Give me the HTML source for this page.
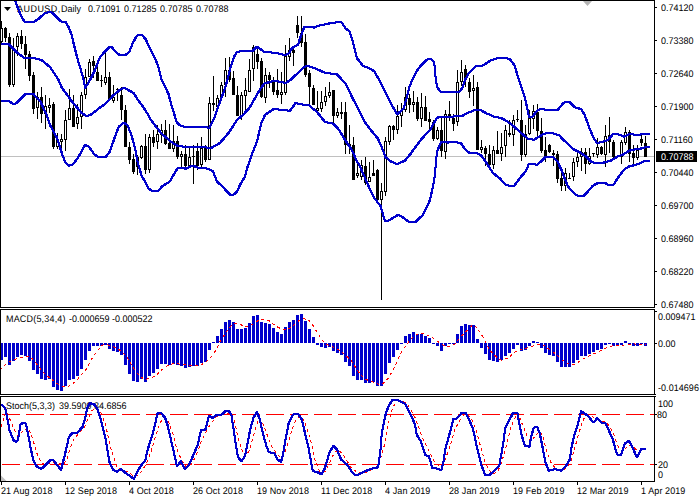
<!DOCTYPE html>
<html><head><meta charset="utf-8"><title>AUDUSD Daily</title>
<style>
html,body{margin:0;padding:0;background:#fff;}
body{width:700px;height:500px;position:relative;overflow:hidden;font-family:"Liberation Sans",sans-serif;}
svg{position:absolute;left:0;top:0;}
.t{position:absolute;font-size:9.6px;line-height:11px;height:11px;white-space:nowrap;font-family:"Liberation Sans",sans-serif;text-rendering:geometricPrecision;transform-origin:0 0;transform:scaleX(0.9375);}
</style></head><body>
<div class="t" style="left:17px;top:4px;color:#000;letter-spacing:0.50px">AUDUSD,</div><div class="t" style="left:61px;top:4px;color:#000">Daily</div><div class="t" style="left:88px;top:4px;color:#000">0.71091</div><div class="t" style="left:124px;top:4px;color:#000">0.71285</div><div class="t" style="left:160px;top:4px;color:#000">0.70785</div><div class="t" style="left:196px;top:4px;color:#000">0.70788</div><div class="t" style="left:5.5px;top:314px;color:#000;letter-spacing:0.20px">MACD(5,34,4)</div><div class="t" style="left:69px;top:314px;color:#000">-0.000659 -0.000522</div><div class="t" style="left:5.5px;top:401px;color:#000">Stoch(5,3,3)</div><div class="t" style="left:58.5px;top:401px;color:#000">39.5909</div><div class="t" style="left:94px;top:401px;color:#000">34.6856</div>
<svg width="700" height="500" viewBox="0 0 700 500">
<g shape-rendering="crispEdges">
<rect x="1" y="156" width="653" height="1" fill="#c0c0c0"/>
<rect x="1" y="21" width="1" height="22" fill="#000"/>
<rect x="0" y="28" width="3" height="14" fill="#000"/>
<rect x="1" y="29" width="1" height="12" fill="#fff"/>
<rect x="5" y="27" width="1" height="15" fill="#000"/>
<rect x="4" y="28" width="3" height="10" fill="#000"/>
<rect x="9" y="33" width="1" height="54" fill="#000"/>
<rect x="8" y="37" width="3" height="48" fill="#000"/>
<rect x="13" y="38" width="1" height="49" fill="#000"/>
<rect x="12" y="48" width="3" height="37" fill="#000"/>
<rect x="13" y="49" width="1" height="35" fill="#fff"/>
<rect x="17" y="33" width="1" height="23" fill="#000"/>
<rect x="16" y="36" width="3" height="11" fill="#000"/>
<rect x="17" y="37" width="1" height="9" fill="#fff"/>
<rect x="21" y="30" width="1" height="19" fill="#000"/>
<rect x="20" y="36" width="3" height="8" fill="#000"/>
<rect x="25" y="36" width="1" height="33" fill="#000"/>
<rect x="24" y="44" width="3" height="11" fill="#000"/>
<rect x="29" y="51" width="1" height="30" fill="#000"/>
<rect x="28" y="54" width="3" height="22" fill="#000"/>
<rect x="33" y="72" width="1" height="42" fill="#000"/>
<rect x="32" y="75" width="3" height="34" fill="#000"/>
<rect x="37" y="92" width="1" height="27" fill="#000"/>
<rect x="36" y="97" width="3" height="11" fill="#000"/>
<rect x="37" y="98" width="1" height="9" fill="#fff"/>
<rect x="41" y="87" width="1" height="36" fill="#000"/>
<rect x="40" y="97" width="3" height="17" fill="#000"/>
<rect x="45" y="95" width="1" height="34" fill="#000"/>
<rect x="44" y="106" width="3" height="8" fill="#000"/>
<rect x="45" y="107" width="1" height="6" fill="#fff"/>
<rect x="49" y="98" width="1" height="15" fill="#000"/>
<rect x="48" y="105" width="3" height="3" fill="#000"/>
<rect x="49" y="106" width="1" height="1" fill="#fff"/>
<rect x="53" y="102" width="1" height="47" fill="#000"/>
<rect x="52" y="104" width="3" height="43" fill="#000"/>
<rect x="57" y="133" width="1" height="16" fill="#000"/>
<rect x="56" y="140" width="3" height="7" fill="#000"/>
<rect x="57" y="141" width="1" height="5" fill="#fff"/>
<rect x="61" y="134" width="1" height="21" fill="#000"/>
<rect x="60" y="139" width="3" height="3" fill="#000"/>
<rect x="61" y="140" width="1" height="1" fill="#fff"/>
<rect x="65" y="110" width="1" height="41" fill="#000"/>
<rect x="64" y="120" width="3" height="20" fill="#000"/>
<rect x="65" y="121" width="1" height="18" fill="#fff"/>
<rect x="69" y="89" width="1" height="31" fill="#000"/>
<rect x="68" y="108" width="3" height="12" fill="#000"/>
<rect x="69" y="109" width="1" height="10" fill="#fff"/>
<rect x="73" y="95" width="1" height="32" fill="#000"/>
<rect x="72" y="108" width="3" height="19" fill="#000"/>
<rect x="77" y="104" width="1" height="25" fill="#000"/>
<rect x="76" y="117" width="3" height="7" fill="#000"/>
<rect x="77" y="118" width="1" height="5" fill="#fff"/>
<rect x="81" y="92" width="1" height="37" fill="#000"/>
<rect x="80" y="95" width="3" height="22" fill="#000"/>
<rect x="81" y="96" width="1" height="20" fill="#fff"/>
<rect x="85" y="69" width="1" height="30" fill="#000"/>
<rect x="84" y="77" width="3" height="18" fill="#000"/>
<rect x="85" y="78" width="1" height="16" fill="#fff"/>
<rect x="89" y="59" width="1" height="18" fill="#000"/>
<rect x="88" y="62" width="3" height="15" fill="#000"/>
<rect x="89" y="63" width="1" height="13" fill="#fff"/>
<rect x="93" y="56" width="1" height="22" fill="#000"/>
<rect x="92" y="61" width="3" height="5" fill="#000"/>
<rect x="97" y="66" width="1" height="15" fill="#000"/>
<rect x="96" y="72" width="3" height="9" fill="#000"/>
<rect x="101" y="75" width="1" height="12" fill="#000"/>
<rect x="100" y="80" width="3" height="1" fill="#000"/>
<rect x="105" y="53" width="1" height="32" fill="#000"/>
<rect x="104" y="77" width="3" height="6" fill="#000"/>
<rect x="105" y="78" width="1" height="4" fill="#fff"/>
<rect x="109" y="72" width="1" height="28" fill="#000"/>
<rect x="108" y="77" width="3" height="23" fill="#000"/>
<rect x="113" y="85" width="1" height="18" fill="#000"/>
<rect x="112" y="97" width="3" height="4" fill="#000"/>
<rect x="113" y="98" width="1" height="2" fill="#fff"/>
<rect x="117" y="88" width="1" height="13" fill="#000"/>
<rect x="116" y="89" width="3" height="1" fill="#000"/>
<rect x="121" y="87" width="1" height="33" fill="#000"/>
<rect x="120" y="95" width="3" height="15" fill="#000"/>
<rect x="125" y="105" width="1" height="42" fill="#000"/>
<rect x="124" y="110" width="3" height="37" fill="#000"/>
<rect x="129" y="142" width="1" height="22" fill="#000"/>
<rect x="128" y="147" width="3" height="13" fill="#000"/>
<rect x="133" y="154" width="1" height="20" fill="#000"/>
<rect x="132" y="159" width="3" height="13" fill="#000"/>
<rect x="137" y="155" width="1" height="20" fill="#000"/>
<rect x="136" y="157" width="3" height="10" fill="#000"/>
<rect x="137" y="158" width="1" height="8" fill="#fff"/>
<rect x="141" y="145" width="1" height="14" fill="#000"/>
<rect x="140" y="146" width="3" height="12" fill="#000"/>
<rect x="141" y="147" width="1" height="10" fill="#fff"/>
<rect x="145" y="134" width="1" height="40" fill="#000"/>
<rect x="144" y="146" width="3" height="24" fill="#000"/>
<rect x="149" y="134" width="1" height="39" fill="#000"/>
<rect x="148" y="137" width="3" height="33" fill="#000"/>
<rect x="149" y="138" width="1" height="31" fill="#fff"/>
<rect x="153" y="130" width="1" height="17" fill="#000"/>
<rect x="152" y="137" width="3" height="6" fill="#000"/>
<rect x="157" y="125" width="1" height="24" fill="#000"/>
<rect x="156" y="134" width="3" height="8" fill="#000"/>
<rect x="157" y="135" width="1" height="6" fill="#fff"/>
<rect x="161" y="124" width="1" height="19" fill="#000"/>
<rect x="160" y="130" width="3" height="5" fill="#000"/>
<rect x="161" y="131" width="1" height="3" fill="#fff"/>
<rect x="165" y="120" width="1" height="25" fill="#000"/>
<rect x="164" y="130" width="3" height="14" fill="#000"/>
<rect x="169" y="124" width="1" height="25" fill="#000"/>
<rect x="168" y="143" width="3" height="6" fill="#000"/>
<rect x="173" y="125" width="1" height="27" fill="#000"/>
<rect x="172" y="141" width="3" height="8" fill="#000"/>
<rect x="173" y="142" width="1" height="6" fill="#fff"/>
<rect x="177" y="136" width="1" height="23" fill="#000"/>
<rect x="176" y="141" width="3" height="16" fill="#000"/>
<rect x="181" y="151" width="1" height="16" fill="#000"/>
<rect x="180" y="154" width="3" height="3" fill="#000"/>
<rect x="181" y="155" width="1" height="1" fill="#fff"/>
<rect x="185" y="145" width="1" height="23" fill="#000"/>
<rect x="184" y="154" width="3" height="12" fill="#000"/>
<rect x="189" y="147" width="1" height="20" fill="#000"/>
<rect x="188" y="157" width="3" height="9" fill="#000"/>
<rect x="189" y="158" width="1" height="7" fill="#fff"/>
<rect x="193" y="145" width="1" height="39" fill="#000"/>
<rect x="192" y="156" width="3" height="1" fill="#000"/>
<rect x="197" y="143" width="1" height="27" fill="#000"/>
<rect x="196" y="151" width="3" height="15" fill="#000"/>
<rect x="201" y="137" width="1" height="30" fill="#000"/>
<rect x="200" y="148" width="3" height="17" fill="#000"/>
<rect x="201" y="149" width="1" height="15" fill="#fff"/>
<rect x="205" y="145" width="1" height="17" fill="#000"/>
<rect x="204" y="148" width="3" height="12" fill="#000"/>
<rect x="209" y="97" width="1" height="63" fill="#000"/>
<rect x="208" y="103" width="3" height="57" fill="#000"/>
<rect x="209" y="104" width="1" height="55" fill="#fff"/>
<rect x="213" y="76" width="1" height="35" fill="#000"/>
<rect x="212" y="103" width="3" height="2" fill="#000"/>
<rect x="217" y="95" width="1" height="12" fill="#000"/>
<rect x="216" y="98" width="3" height="9" fill="#000"/>
<rect x="217" y="99" width="1" height="7" fill="#fff"/>
<rect x="221" y="82" width="1" height="18" fill="#000"/>
<rect x="220" y="85" width="3" height="12" fill="#000"/>
<rect x="221" y="86" width="1" height="10" fill="#fff"/>
<rect x="225" y="58" width="1" height="39" fill="#000"/>
<rect x="224" y="70" width="3" height="15" fill="#000"/>
<rect x="225" y="71" width="1" height="13" fill="#fff"/>
<rect x="229" y="57" width="1" height="25" fill="#000"/>
<rect x="228" y="70" width="3" height="10" fill="#000"/>
<rect x="233" y="71" width="1" height="24" fill="#000"/>
<rect x="232" y="78" width="3" height="17" fill="#000"/>
<rect x="237" y="86" width="1" height="30" fill="#000"/>
<rect x="236" y="95" width="3" height="21" fill="#000"/>
<rect x="241" y="92" width="1" height="28" fill="#000"/>
<rect x="240" y="95" width="3" height="21" fill="#000"/>
<rect x="241" y="96" width="1" height="19" fill="#fff"/>
<rect x="245" y="78" width="1" height="32" fill="#000"/>
<rect x="244" y="90" width="3" height="6" fill="#000"/>
<rect x="245" y="91" width="1" height="4" fill="#fff"/>
<rect x="249" y="59" width="1" height="33" fill="#000"/>
<rect x="248" y="70" width="3" height="22" fill="#000"/>
<rect x="249" y="71" width="1" height="20" fill="#fff"/>
<rect x="253" y="45" width="1" height="36" fill="#000"/>
<rect x="252" y="47" width="3" height="22" fill="#000"/>
<rect x="253" y="48" width="1" height="20" fill="#fff"/>
<rect x="257" y="48" width="1" height="21" fill="#000"/>
<rect x="256" y="54" width="3" height="8" fill="#000"/>
<rect x="261" y="58" width="1" height="40" fill="#000"/>
<rect x="260" y="61" width="3" height="36" fill="#000"/>
<rect x="265" y="68" width="1" height="35" fill="#000"/>
<rect x="264" y="75" width="3" height="23" fill="#000"/>
<rect x="265" y="76" width="1" height="21" fill="#fff"/>
<rect x="269" y="72" width="1" height="16" fill="#000"/>
<rect x="268" y="75" width="3" height="5" fill="#000"/>
<rect x="273" y="77" width="1" height="18" fill="#000"/>
<rect x="272" y="80" width="3" height="12" fill="#000"/>
<rect x="277" y="69" width="1" height="29" fill="#000"/>
<rect x="276" y="90" width="3" height="5" fill="#000"/>
<rect x="281" y="72" width="1" height="32" fill="#000"/>
<rect x="280" y="92" width="3" height="3" fill="#000"/>
<rect x="281" y="93" width="1" height="1" fill="#fff"/>
<rect x="285" y="45" width="1" height="50" fill="#000"/>
<rect x="284" y="56" width="3" height="37" fill="#000"/>
<rect x="285" y="57" width="1" height="35" fill="#fff"/>
<rect x="289" y="38" width="1" height="23" fill="#000"/>
<rect x="288" y="50" width="3" height="7" fill="#000"/>
<rect x="289" y="51" width="1" height="5" fill="#fff"/>
<rect x="293" y="48" width="1" height="18" fill="#000"/>
<rect x="292" y="50" width="3" height="3" fill="#000"/>
<rect x="297" y="16" width="1" height="22" fill="#000"/>
<rect x="296" y="25" width="3" height="8" fill="#000"/>
<rect x="301" y="16" width="1" height="31" fill="#000"/>
<rect x="300" y="33" width="3" height="10" fill="#000"/>
<rect x="305" y="34" width="1" height="43" fill="#000"/>
<rect x="304" y="42" width="3" height="33" fill="#000"/>
<rect x="309" y="70" width="1" height="35" fill="#000"/>
<rect x="308" y="73" width="3" height="14" fill="#000"/>
<rect x="313" y="85" width="1" height="20" fill="#000"/>
<rect x="312" y="88" width="3" height="17" fill="#000"/>
<rect x="317" y="91" width="1" height="20" fill="#000"/>
<rect x="316" y="108" width="3" height="3" fill="#000"/>
<rect x="317" y="109" width="1" height="1" fill="#fff"/>
<rect x="321" y="91" width="1" height="21" fill="#000"/>
<rect x="320" y="102" width="3" height="7" fill="#000"/>
<rect x="321" y="103" width="1" height="5" fill="#fff"/>
<rect x="325" y="87" width="1" height="19" fill="#000"/>
<rect x="324" y="96" width="3" height="6" fill="#000"/>
<rect x="325" y="97" width="1" height="4" fill="#fff"/>
<rect x="329" y="82" width="1" height="16" fill="#000"/>
<rect x="328" y="92" width="3" height="4" fill="#000"/>
<rect x="329" y="93" width="1" height="2" fill="#fff"/>
<rect x="333" y="90" width="1" height="33" fill="#000"/>
<rect x="332" y="90" width="3" height="26" fill="#000"/>
<rect x="337" y="108" width="1" height="10" fill="#000"/>
<rect x="336" y="112" width="3" height="4" fill="#000"/>
<rect x="337" y="113" width="1" height="2" fill="#fff"/>
<rect x="341" y="102" width="1" height="17" fill="#000"/>
<rect x="340" y="112" width="3" height="2" fill="#000"/>
<rect x="345" y="102" width="1" height="52" fill="#000"/>
<rect x="344" y="112" width="3" height="33" fill="#000"/>
<rect x="349" y="125" width="1" height="29" fill="#000"/>
<rect x="348" y="144" width="3" height="2" fill="#000"/>
<rect x="353" y="137" width="1" height="43" fill="#000"/>
<rect x="352" y="145" width="3" height="35" fill="#000"/>
<rect x="357" y="162" width="1" height="16" fill="#000"/>
<rect x="356" y="173" width="3" height="3" fill="#000"/>
<rect x="357" y="174" width="1" height="1" fill="#fff"/>
<rect x="361" y="160" width="1" height="20" fill="#000"/>
<rect x="360" y="165" width="3" height="12" fill="#000"/>
<rect x="361" y="166" width="1" height="10" fill="#fff"/>
<rect x="365" y="157" width="1" height="28" fill="#000"/>
<rect x="364" y="166" width="3" height="17" fill="#000"/>
<rect x="369" y="162" width="1" height="20" fill="#000"/>
<rect x="368" y="177" width="3" height="5" fill="#000"/>
<rect x="369" y="178" width="1" height="3" fill="#fff"/>
<rect x="373" y="160" width="1" height="16" fill="#000"/>
<rect x="372" y="173" width="3" height="3" fill="#000"/>
<rect x="377" y="169" width="1" height="31" fill="#000"/>
<rect x="376" y="170" width="3" height="30" fill="#000"/>
<rect x="381" y="183" width="1" height="117" fill="#000"/>
<rect x="380" y="191" width="3" height="9" fill="#000"/>
<rect x="381" y="192" width="1" height="7" fill="#fff"/>
<rect x="385" y="137" width="1" height="59" fill="#000"/>
<rect x="384" y="141" width="3" height="51" fill="#000"/>
<rect x="385" y="142" width="1" height="49" fill="#fff"/>
<rect x="389" y="125" width="1" height="20" fill="#000"/>
<rect x="388" y="126" width="3" height="16" fill="#000"/>
<rect x="389" y="127" width="1" height="14" fill="#fff"/>
<rect x="393" y="125" width="1" height="15" fill="#000"/>
<rect x="392" y="126" width="3" height="4" fill="#000"/>
<rect x="397" y="105" width="1" height="29" fill="#000"/>
<rect x="396" y="116" width="3" height="14" fill="#000"/>
<rect x="397" y="117" width="1" height="12" fill="#fff"/>
<rect x="401" y="103" width="1" height="24" fill="#000"/>
<rect x="400" y="111" width="3" height="5" fill="#000"/>
<rect x="401" y="112" width="1" height="3" fill="#fff"/>
<rect x="405" y="87" width="1" height="25" fill="#000"/>
<rect x="404" y="97" width="3" height="13" fill="#000"/>
<rect x="405" y="98" width="1" height="11" fill="#fff"/>
<rect x="409" y="94" width="1" height="19" fill="#000"/>
<rect x="408" y="98" width="3" height="7" fill="#000"/>
<rect x="413" y="91" width="1" height="21" fill="#000"/>
<rect x="412" y="102" width="3" height="3" fill="#000"/>
<rect x="413" y="103" width="1" height="1" fill="#fff"/>
<rect x="417" y="97" width="1" height="24" fill="#000"/>
<rect x="416" y="102" width="3" height="17" fill="#000"/>
<rect x="421" y="93" width="1" height="34" fill="#000"/>
<rect x="420" y="107" width="3" height="12" fill="#000"/>
<rect x="421" y="108" width="1" height="10" fill="#fff"/>
<rect x="425" y="96" width="1" height="25" fill="#000"/>
<rect x="424" y="107" width="3" height="14" fill="#000"/>
<rect x="429" y="112" width="1" height="18" fill="#000"/>
<rect x="428" y="119" width="3" height="3" fill="#000"/>
<rect x="433" y="120" width="1" height="21" fill="#000"/>
<rect x="432" y="122" width="3" height="17" fill="#000"/>
<rect x="437" y="127" width="1" height="13" fill="#000"/>
<rect x="436" y="130" width="3" height="9" fill="#000"/>
<rect x="437" y="131" width="1" height="7" fill="#fff"/>
<rect x="441" y="118" width="1" height="39" fill="#000"/>
<rect x="440" y="130" width="3" height="21" fill="#000"/>
<rect x="445" y="110" width="1" height="49" fill="#000"/>
<rect x="444" y="114" width="3" height="38" fill="#000"/>
<rect x="445" y="115" width="1" height="36" fill="#fff"/>
<rect x="449" y="101" width="1" height="20" fill="#000"/>
<rect x="448" y="114" width="3" height="4" fill="#000"/>
<rect x="453" y="114" width="1" height="17" fill="#000"/>
<rect x="452" y="118" width="3" height="6" fill="#000"/>
<rect x="457" y="70" width="1" height="56" fill="#000"/>
<rect x="456" y="82" width="3" height="40" fill="#000"/>
<rect x="457" y="83" width="1" height="38" fill="#fff"/>
<rect x="461" y="60" width="1" height="26" fill="#000"/>
<rect x="460" y="72" width="3" height="10" fill="#000"/>
<rect x="461" y="73" width="1" height="8" fill="#fff"/>
<rect x="465" y="65" width="1" height="22" fill="#000"/>
<rect x="464" y="69" width="3" height="10" fill="#000"/>
<rect x="469" y="78" width="1" height="20" fill="#000"/>
<rect x="468" y="82" width="3" height="10" fill="#000"/>
<rect x="473" y="75" width="1" height="31" fill="#000"/>
<rect x="472" y="88" width="3" height="3" fill="#000"/>
<rect x="473" y="89" width="1" height="1" fill="#fff"/>
<rect x="477" y="82" width="1" height="68" fill="#000"/>
<rect x="476" y="87" width="3" height="63" fill="#000"/>
<rect x="481" y="140" width="1" height="13" fill="#000"/>
<rect x="480" y="147" width="3" height="3" fill="#000"/>
<rect x="481" y="148" width="1" height="1" fill="#fff"/>
<rect x="485" y="146" width="1" height="20" fill="#000"/>
<rect x="484" y="148" width="3" height="6" fill="#000"/>
<rect x="489" y="145" width="1" height="20" fill="#000"/>
<rect x="488" y="154" width="3" height="11" fill="#000"/>
<rect x="493" y="146" width="1" height="23" fill="#000"/>
<rect x="492" y="150" width="3" height="15" fill="#000"/>
<rect x="493" y="151" width="1" height="13" fill="#fff"/>
<rect x="497" y="131" width="1" height="23" fill="#000"/>
<rect x="496" y="150" width="3" height="4" fill="#000"/>
<rect x="501" y="133" width="1" height="28" fill="#000"/>
<rect x="500" y="147" width="3" height="7" fill="#000"/>
<rect x="501" y="148" width="1" height="5" fill="#fff"/>
<rect x="505" y="125" width="1" height="32" fill="#000"/>
<rect x="504" y="130" width="3" height="16" fill="#000"/>
<rect x="505" y="131" width="1" height="14" fill="#fff"/>
<rect x="509" y="120" width="1" height="17" fill="#000"/>
<rect x="508" y="133" width="3" height="2" fill="#000"/>
<rect x="513" y="115" width="1" height="31" fill="#000"/>
<rect x="512" y="120" width="3" height="15" fill="#000"/>
<rect x="513" y="121" width="1" height="13" fill="#fff"/>
<rect x="517" y="110" width="1" height="12" fill="#000"/>
<rect x="516" y="119" width="3" height="1" fill="#000"/>
<rect x="521" y="100" width="1" height="61" fill="#000"/>
<rect x="520" y="120" width="3" height="35" fill="#000"/>
<rect x="525" y="125" width="1" height="32" fill="#000"/>
<rect x="524" y="134" width="3" height="21" fill="#000"/>
<rect x="525" y="135" width="1" height="19" fill="#fff"/>
<rect x="529" y="110" width="1" height="25" fill="#000"/>
<rect x="528" y="118" width="3" height="16" fill="#000"/>
<rect x="529" y="119" width="1" height="14" fill="#fff"/>
<rect x="533" y="105" width="1" height="24" fill="#000"/>
<rect x="532" y="111" width="3" height="8" fill="#000"/>
<rect x="533" y="112" width="1" height="6" fill="#fff"/>
<rect x="537" y="104" width="1" height="32" fill="#000"/>
<rect x="536" y="112" width="3" height="19" fill="#000"/>
<rect x="541" y="118" width="1" height="35" fill="#000"/>
<rect x="540" y="131" width="3" height="20" fill="#000"/>
<rect x="545" y="137" width="1" height="25" fill="#000"/>
<rect x="544" y="150" width="3" height="7" fill="#000"/>
<rect x="549" y="144" width="1" height="9" fill="#000"/>
<rect x="548" y="145" width="3" height="7" fill="#000"/>
<rect x="553" y="150" width="1" height="16" fill="#000"/>
<rect x="552" y="153" width="3" height="2" fill="#000"/>
<rect x="557" y="151" width="1" height="32" fill="#000"/>
<rect x="556" y="154" width="3" height="25" fill="#000"/>
<rect x="561" y="171" width="1" height="20" fill="#000"/>
<rect x="560" y="178" width="3" height="8" fill="#000"/>
<rect x="565" y="168" width="1" height="23" fill="#000"/>
<rect x="564" y="173" width="3" height="13" fill="#000"/>
<rect x="565" y="174" width="1" height="11" fill="#fff"/>
<rect x="569" y="173" width="1" height="6" fill="#000"/>
<rect x="568" y="178" width="3" height="1" fill="#000"/>
<rect x="573" y="158" width="1" height="23" fill="#000"/>
<rect x="572" y="162" width="3" height="15" fill="#000"/>
<rect x="573" y="163" width="1" height="13" fill="#fff"/>
<rect x="577" y="153" width="1" height="14" fill="#000"/>
<rect x="576" y="157" width="3" height="5" fill="#000"/>
<rect x="577" y="158" width="1" height="3" fill="#fff"/>
<rect x="581" y="148" width="1" height="23" fill="#000"/>
<rect x="580" y="152" width="3" height="5" fill="#000"/>
<rect x="581" y="153" width="1" height="3" fill="#fff"/>
<rect x="585" y="148" width="1" height="26" fill="#000"/>
<rect x="584" y="152" width="3" height="12" fill="#000"/>
<rect x="589" y="148" width="1" height="17" fill="#000"/>
<rect x="588" y="156" width="3" height="8" fill="#000"/>
<rect x="589" y="157" width="1" height="6" fill="#fff"/>
<rect x="593" y="153" width="1" height="4" fill="#000"/>
<rect x="592" y="153" width="3" height="1" fill="#000"/>
<rect x="597" y="138" width="1" height="20" fill="#000"/>
<rect x="596" y="147" width="3" height="8" fill="#000"/>
<rect x="597" y="148" width="1" height="6" fill="#fff"/>
<rect x="601" y="146" width="1" height="9" fill="#000"/>
<rect x="600" y="147" width="3" height="7" fill="#000"/>
<rect x="605" y="125" width="1" height="42" fill="#000"/>
<rect x="604" y="136" width="3" height="19" fill="#000"/>
<rect x="605" y="137" width="1" height="17" fill="#fff"/>
<rect x="609" y="117" width="1" height="36" fill="#000"/>
<rect x="608" y="135" width="3" height="7" fill="#000"/>
<rect x="613" y="140" width="1" height="18" fill="#000"/>
<rect x="612" y="142" width="3" height="15" fill="#000"/>
<rect x="617" y="156" width="1" height="1" fill="#000"/>
<rect x="616" y="156" width="3" height="1" fill="#000"/>
<rect x="621" y="140" width="1" height="24" fill="#000"/>
<rect x="620" y="142" width="3" height="15" fill="#000"/>
<rect x="621" y="143" width="1" height="13" fill="#fff"/>
<rect x="625" y="127" width="1" height="18" fill="#000"/>
<rect x="624" y="132" width="3" height="11" fill="#000"/>
<rect x="625" y="133" width="1" height="9" fill="#fff"/>
<rect x="629" y="130" width="1" height="32" fill="#000"/>
<rect x="628" y="132" width="3" height="22" fill="#000"/>
<rect x="633" y="145" width="1" height="20" fill="#000"/>
<rect x="632" y="153" width="3" height="5" fill="#000"/>
<rect x="637" y="145" width="1" height="15" fill="#000"/>
<rect x="636" y="150" width="3" height="8" fill="#000"/>
<rect x="637" y="151" width="1" height="6" fill="#fff"/>
<rect x="641" y="133" width="1" height="13" fill="#000"/>
<rect x="640" y="139" width="3" height="4" fill="#000"/>
<rect x="645" y="136" width="1" height="21" fill="#000"/>
<rect x="644" y="143" width="3" height="14" fill="#000"/>
</g>
<g shape-rendering="crispEdges" fill="none" stroke-width="1" stroke-linejoin="round">
<polyline points="14.5,-0.5 18.1,9.5 21.0,15.9 24.0,21.3 33.8,21.3 38.5,18.0 44.2,12.7 48.1,11.6 51.5,12.1 55.5,16.0 60.2,20.9 65.2,21.6 68.0,26.5 70.9,33.8 73.5,44.5 76.5,56.5 79.5,66.5 82.4,76.5 84.8,87.4 89.5,79.5 94.5,69.5 99.5,56.5 105.2,50.2 108.8,46.5 111.5,46.9 115.2,51.5 118.8,54.2 125.2,54.2 128.8,51.5 132.4,42.4 135.9,35.9 138.1,34.5 141.5,34.5 145.2,38.8 149.5,48.1 154.5,58.1 157.4,64.5 160.9,78.5 168.1,93.8 169.5,99.5 172.4,109.5 173.8,113.8 175.5,119.5 177.0,122.7 179.5,124.7 182.5,125.8 185.5,126.5 204.5,126.5 208.8,127.4 213.8,117.5 216.5,109.5 220.9,97.5 224.0,89.0 225.5,84.5 228.5,73.0 231.5,62.0 234.0,55.5 236.5,51.5 242.4,50.2 252.4,50.2 256.5,46.2 263.8,51.5 276.5,52.4 283.8,54.7 288.1,53.1 290.9,48.8 293.1,46.5 297.4,44.5 300.2,35.9 303.8,26.5 308.1,26.2 313.8,27.1 318.1,25.2 329.5,22.8 339.5,21.4 341.5,22.4 345.2,28.1 348.8,30.5 352.4,41.5 356.5,58.1 358.1,59.5 362.4,65.2 369.5,68.1 373.8,70.9 379.5,80.9 386.5,95.2 392.4,106.5 396.5,113.8 403.1,108.1 405.9,98.1 408.8,86.5 412.4,78.1 415.9,70.9 420.2,65.2 425.9,59.5 428.8,58.4 431.5,59.2 433.8,62.4 434.5,72.4 436.5,86.5 440.2,91.5 443.1,91.8 458.8,91.2 461.5,88.1 464.5,79.5 468.1,73.1 475.2,65.9 482.4,64.9 490.9,59.5 498.1,57.4 505.2,57.4 509.5,58.8 513.8,64.5 518.1,78.1 523.8,95.2 526.5,106.5 528.5,116.5 532.4,115.9 536.5,110.2 539.5,108.8 554.5,109.5 557.4,109.1 562.4,103.1 565.2,101.4 568.8,101.5 573.8,106.5 580.9,108.8 584.5,115.2 588.8,127.4 593.1,137.4 596.5,142.4 601.5,141.5 607.4,139.5 612.4,133.8 617.4,133.8 623.8,136.2 628.8,133.8 637.4,134.2 649.0,133.4" stroke="#0000cc"/>
<polyline points="15.5,-0.5 19.1,9.5 22.0,15.9 25.0,21.3 34.8,21.3 39.5,18.0 45.2,12.7 49.1,11.6 52.5,12.1 56.5,16.0 61.2,20.9 66.2,21.6 69.0,26.5 71.9,33.8 74.5,44.5 77.5,56.5 80.5,66.5 83.4,76.5 85.8,87.4 90.5,79.5 95.5,69.5 100.5,56.5 106.2,50.2 109.8,46.5 112.5,46.9 116.2,51.5 119.8,54.2 126.2,54.2 129.8,51.5 133.4,42.4 136.9,35.9 139.1,34.5 142.5,34.5 146.2,38.8 150.5,48.1 155.5,58.1 158.4,64.5 161.9,78.5 169.1,93.8 170.5,99.5 173.4,109.5 174.8,113.8 176.5,119.5 178.0,122.7 180.5,124.7 183.5,125.8 186.5,126.5 205.5,126.5 209.8,127.4 214.8,117.5 217.5,109.5 221.9,97.5 225.0,89.0 226.5,84.5 229.5,73.0 232.5,62.0 235.0,55.5 237.5,51.5 243.4,50.2 253.4,50.2 257.5,46.2 264.8,51.5 277.5,52.4 284.8,54.7 289.1,53.1 291.9,48.8 294.1,46.5 298.4,44.5 301.2,35.9 304.8,26.5 309.1,26.2 314.8,27.1 319.1,25.2 330.5,22.8 340.5,21.4 342.5,22.4 346.2,28.1 349.8,30.5 353.4,41.5 357.5,58.1 359.1,59.5 363.4,65.2 370.5,68.1 374.8,70.9 380.5,80.9 387.5,95.2 393.4,106.5 397.5,113.8 404.1,108.1 406.9,98.1 409.8,86.5 413.4,78.1 416.9,70.9 421.2,65.2 426.9,59.5 429.8,58.4 432.5,59.2 434.8,62.4 435.5,72.4 437.5,86.5 441.2,91.5 444.1,91.8 459.8,91.2 462.5,88.1 465.5,79.5 469.1,73.1 476.2,65.9 483.4,64.9 491.9,59.5 499.1,57.4 506.2,57.4 510.5,58.8 514.8,64.5 519.1,78.1 524.8,95.2 527.5,106.5 529.5,116.5 533.4,115.9 537.5,110.2 540.5,108.8 555.5,109.5 558.4,109.1 563.4,103.1 566.2,101.4 569.8,101.5 574.8,106.5 581.9,108.8 585.5,115.2 589.8,127.4 594.1,137.4 597.5,142.4 602.5,141.5 608.4,139.5 613.4,133.8 618.4,133.8 624.8,136.2 629.8,133.8 638.4,134.2 650.0,133.4" stroke="#0000cc"/>
<polyline points="14.5,0.5 18.1,10.5 21.0,16.9 24.0,22.3 33.8,22.3 38.5,19.0 44.2,13.7 48.1,12.6 51.5,13.1 55.5,17.0 60.2,21.9 65.2,22.6 68.0,27.5 70.9,34.8 73.5,45.5 76.5,57.5 79.5,67.5 82.4,77.5 84.8,88.4 89.5,80.5 94.5,70.5 99.5,57.5 105.2,51.2 108.8,47.5 111.5,47.9 115.2,52.5 118.8,55.2 125.2,55.2 128.8,52.5 132.4,43.4 135.9,36.9 138.1,35.5 141.5,35.5 145.2,39.8 149.5,49.1 154.5,59.1 157.4,65.5 160.9,79.5 168.1,94.8 169.5,100.5 172.4,110.5 173.8,114.8 175.5,120.5 177.0,123.7 179.5,125.7 182.5,126.8 185.5,127.5 204.5,127.5 208.8,128.4 213.8,118.5 216.5,110.5 220.9,98.5 224.0,90.0 225.5,85.5 228.5,74.0 231.5,63.0 234.0,56.5 236.5,52.5 242.4,51.2 252.4,51.2 256.5,47.2 263.8,52.5 276.5,53.4 283.8,55.7 288.1,54.1 290.9,49.8 293.1,47.5 297.4,45.5 300.2,36.9 303.8,27.5 308.1,27.2 313.8,28.1 318.1,26.2 329.5,23.8 339.5,22.4 341.5,23.4 345.2,29.1 348.8,31.5 352.4,42.5 356.5,59.1 358.1,60.5 362.4,66.2 369.5,69.1 373.8,71.9 379.5,81.9 386.5,96.2 392.4,107.5 396.5,114.8 403.1,109.1 405.9,99.1 408.8,87.5 412.4,79.1 415.9,71.9 420.2,66.2 425.9,60.5 428.8,59.4 431.5,60.2 433.8,63.4 434.5,73.4 436.5,87.5 440.2,92.5 443.1,92.8 458.8,92.2 461.5,89.1 464.5,80.5 468.1,74.1 475.2,66.9 482.4,65.9 490.9,60.5 498.1,58.4 505.2,58.4 509.5,59.8 513.8,65.5 518.1,79.1 523.8,96.2 526.5,107.5 528.5,117.5 532.4,116.9 536.5,111.2 539.5,109.8 554.5,110.5 557.4,110.1 562.4,104.1 565.2,102.4 568.8,102.5 573.8,107.5 580.9,109.8 584.5,116.2 588.8,128.4 593.1,138.4 596.5,143.4 601.5,142.5 607.4,140.5 612.4,134.8 617.4,134.8 623.8,137.2 628.8,134.8 637.4,135.2 649.0,134.4" stroke="#0000cc"/>
<polyline points="15.5,0.5 19.1,10.5 22.0,16.9 25.0,22.3 34.8,22.3 39.5,19.0 45.2,13.7 49.1,12.6 52.5,13.1 56.5,17.0 61.2,21.9 66.2,22.6 69.0,27.5 71.9,34.8 74.5,45.5 77.5,57.5 80.5,67.5 83.4,77.5 85.8,88.4 90.5,80.5 95.5,70.5 100.5,57.5 106.2,51.2 109.8,47.5 112.5,47.9 116.2,52.5 119.8,55.2 126.2,55.2 129.8,52.5 133.4,43.4 136.9,36.9 139.1,35.5 142.5,35.5 146.2,39.8 150.5,49.1 155.5,59.1 158.4,65.5 161.9,79.5 169.1,94.8 170.5,100.5 173.4,110.5 174.8,114.8 176.5,120.5 178.0,123.7 180.5,125.7 183.5,126.8 186.5,127.5 205.5,127.5 209.8,128.4 214.8,118.5 217.5,110.5 221.9,98.5 225.0,90.0 226.5,85.5 229.5,74.0 232.5,63.0 235.0,56.5 237.5,52.5 243.4,51.2 253.4,51.2 257.5,47.2 264.8,52.5 277.5,53.4 284.8,55.7 289.1,54.1 291.9,49.8 294.1,47.5 298.4,45.5 301.2,36.9 304.8,27.5 309.1,27.2 314.8,28.1 319.1,26.2 330.5,23.8 340.5,22.4 342.5,23.4 346.2,29.1 349.8,31.5 353.4,42.5 357.5,59.1 359.1,60.5 363.4,66.2 370.5,69.1 374.8,71.9 380.5,81.9 387.5,96.2 393.4,107.5 397.5,114.8 404.1,109.1 406.9,99.1 409.8,87.5 413.4,79.1 416.9,71.9 421.2,66.2 426.9,60.5 429.8,59.4 432.5,60.2 434.8,63.4 435.5,73.4 437.5,87.5 441.2,92.5 444.1,92.8 459.8,92.2 462.5,89.1 465.5,80.5 469.1,74.1 476.2,66.9 483.4,65.9 491.9,60.5 499.1,58.4 506.2,58.4 510.5,59.8 514.8,65.5 519.1,79.1 524.8,96.2 527.5,107.5 529.5,117.5 533.4,116.9 537.5,111.2 540.5,109.8 555.5,110.5 558.4,110.1 563.4,104.1 566.2,102.4 569.8,102.5 574.8,107.5 581.9,109.8 585.5,116.2 589.8,128.4 594.1,138.4 597.5,143.4 602.5,142.5 608.4,140.5 613.4,134.8 618.4,134.8 624.8,137.2 629.8,134.8 638.4,135.2 650.0,134.4" stroke="#0000cc"/>
</g>
<g shape-rendering="crispEdges" fill="none" stroke-width="1" stroke-linejoin="round">
<polyline points="-0.5,43.4 8.1,43.8 15.2,50.9 23.8,57.4 32.4,57.4 40.9,59.5 49.5,66.5 58.1,79.5 60.9,86.5 70.9,100.2 80.9,112.4 85.2,115.2 89.5,114.9 99.5,107.1 105.2,103.1 112.4,95.2 120.9,88.1 124.5,87.8 133.1,92.4 137.4,99.5 140.9,103.8 146.5,112.4 149.5,118.0 153.8,123.8 160.9,133.1 170.9,141.5 178.1,145.9 199.5,146.5 210.9,147.4 219.5,142.4 228.1,132.4 236.5,119.5 242.4,114.5 248.8,107.5 259.5,88.8 263.8,83.1 273.8,80.2 285.2,82.4 290.9,78.8 295.2,74.5 299.5,70.5 302.4,67.4 307.0,65.2 315.2,68.1 323.8,72.0 336.5,74.0 345.2,83.1 350.9,95.2 358.1,109.5 363.8,120.9 369.5,128.5 377.4,138.1 382.4,149.5 384.9,156.5 390.2,160.9 396.5,163.5 404.5,160.2 410.2,153.1 420.2,139.5 430.2,128.5 435.9,118.1 438.8,116.2 460.9,115.9 467.0,112.4 475.2,109.3 479.5,109.3 486.5,113.1 493.8,116.2 500.2,117.4 505.2,119.9 510.9,123.8 518.1,130.2 523.8,135.2 528.1,138.8 533.8,139.1 538.1,136.5 542.4,133.8 546.5,132.5 550.9,132.5 555.5,133.8 558.8,134.9 562.4,139.0 565.9,142.0 569.5,145.5 573.1,148.8 580.2,152.4 585.2,155.9 590.2,160.9 593.8,162.5 603.1,162.1 610.2,160.2 617.4,155.9 623.1,153.8 628.8,150.2 634.5,148.8 640.2,148.1 644.5,146.9 649.0,146.5" stroke="#0000cc"/>
<polyline points="0.5,43.4 9.1,43.8 16.2,50.9 24.8,57.4 33.4,57.4 41.9,59.5 50.5,66.5 59.1,79.5 61.9,86.5 71.9,100.2 81.9,112.4 86.2,115.2 90.5,114.9 100.5,107.1 106.2,103.1 113.4,95.2 121.9,88.1 125.5,87.8 134.1,92.4 138.4,99.5 141.9,103.8 147.5,112.4 150.5,118.0 154.8,123.8 161.9,133.1 171.9,141.5 179.1,145.9 200.5,146.5 211.9,147.4 220.5,142.4 229.1,132.4 237.5,119.5 243.4,114.5 249.8,107.5 260.5,88.8 264.8,83.1 274.8,80.2 286.2,82.4 291.9,78.8 296.2,74.5 300.5,70.5 303.4,67.4 308.0,65.2 316.2,68.1 324.8,72.0 337.5,74.0 346.2,83.1 351.9,95.2 359.1,109.5 364.8,120.9 370.5,128.5 378.4,138.1 383.4,149.5 385.9,156.5 391.2,160.9 397.5,163.5 405.5,160.2 411.2,153.1 421.2,139.5 431.2,128.5 436.9,118.1 439.8,116.2 461.9,115.9 468.0,112.4 476.2,109.3 480.5,109.3 487.5,113.1 494.8,116.2 501.2,117.4 506.2,119.9 511.9,123.8 519.1,130.2 524.8,135.2 529.1,138.8 534.8,139.1 539.1,136.5 543.4,133.8 547.5,132.5 551.9,132.5 556.5,133.8 559.8,134.9 563.4,139.0 566.9,142.0 570.5,145.5 574.1,148.8 581.2,152.4 586.2,155.9 591.2,160.9 594.8,162.5 604.1,162.1 611.2,160.2 618.4,155.9 624.1,153.8 629.8,150.2 635.5,148.8 641.2,148.1 645.5,146.9 650.0,146.5" stroke="#0000cc"/>
<polyline points="-0.5,44.4 8.1,44.8 15.2,51.9 23.8,58.4 32.4,58.4 40.9,60.5 49.5,67.5 58.1,80.5 60.9,87.5 70.9,101.2 80.9,113.4 85.2,116.2 89.5,115.9 99.5,108.1 105.2,104.1 112.4,96.2 120.9,89.1 124.5,88.8 133.1,93.4 137.4,100.5 140.9,104.8 146.5,113.4 149.5,119.0 153.8,124.8 160.9,134.1 170.9,142.5 178.1,146.9 199.5,147.5 210.9,148.4 219.5,143.4 228.1,133.4 236.5,120.5 242.4,115.5 248.8,108.5 259.5,89.8 263.8,84.1 273.8,81.2 285.2,83.4 290.9,79.8 295.2,75.5 299.5,71.5 302.4,68.4 307.0,66.2 315.2,69.1 323.8,73.0 336.5,75.0 345.2,84.1 350.9,96.2 358.1,110.5 363.8,121.9 369.5,129.5 377.4,139.1 382.4,150.5 384.9,157.5 390.2,161.9 396.5,164.5 404.5,161.2 410.2,154.1 420.2,140.5 430.2,129.5 435.9,119.1 438.8,117.2 460.9,116.9 467.0,113.4 475.2,110.3 479.5,110.3 486.5,114.1 493.8,117.2 500.2,118.4 505.2,120.9 510.9,124.8 518.1,131.2 523.8,136.2 528.1,139.8 533.8,140.1 538.1,137.5 542.4,134.8 546.5,133.5 550.9,133.5 555.5,134.8 558.8,135.9 562.4,140.0 565.9,143.0 569.5,146.5 573.1,149.8 580.2,153.4 585.2,156.9 590.2,161.9 593.8,163.5 603.1,163.1 610.2,161.2 617.4,156.9 623.1,154.8 628.8,151.2 634.5,149.8 640.2,149.1 644.5,147.9 649.0,147.5" stroke="#0000cc"/>
<polyline points="0.5,44.4 9.1,44.8 16.2,51.9 24.8,58.4 33.4,58.4 41.9,60.5 50.5,67.5 59.1,80.5 61.9,87.5 71.9,101.2 81.9,113.4 86.2,116.2 90.5,115.9 100.5,108.1 106.2,104.1 113.4,96.2 121.9,89.1 125.5,88.8 134.1,93.4 138.4,100.5 141.9,104.8 147.5,113.4 150.5,119.0 154.8,124.8 161.9,134.1 171.9,142.5 179.1,146.9 200.5,147.5 211.9,148.4 220.5,143.4 229.1,133.4 237.5,120.5 243.4,115.5 249.8,108.5 260.5,89.8 264.8,84.1 274.8,81.2 286.2,83.4 291.9,79.8 296.2,75.5 300.5,71.5 303.4,68.4 308.0,66.2 316.2,69.1 324.8,73.0 337.5,75.0 346.2,84.1 351.9,96.2 359.1,110.5 364.8,121.9 370.5,129.5 378.4,139.1 383.4,150.5 385.9,157.5 391.2,161.9 397.5,164.5 405.5,161.2 411.2,154.1 421.2,140.5 431.2,129.5 436.9,119.1 439.8,117.2 461.9,116.9 468.0,113.4 476.2,110.3 480.5,110.3 487.5,114.1 494.8,117.2 501.2,118.4 506.2,120.9 511.9,124.8 519.1,131.2 524.8,136.2 529.1,139.8 534.8,140.1 539.1,137.5 543.4,134.8 547.5,133.5 551.9,133.5 556.5,134.8 559.8,135.9 563.4,140.0 566.9,143.0 570.5,146.5 574.1,149.8 581.2,153.4 586.2,156.9 591.2,161.9 594.8,163.5 604.1,163.1 611.2,161.2 618.4,156.9 624.1,154.8 629.8,151.2 635.5,149.8 641.2,149.1 645.5,147.9 650.0,147.5" stroke="#0000cc"/>
</g>
<g shape-rendering="crispEdges" fill="none" stroke-width="1" stroke-linejoin="round">
<polyline points="-0.5,100.2 8.1,100.2 13.1,103.8 15.9,102.5 25.2,93.5 32.4,93.1 39.5,100.2 46.5,115.2 49.5,124.5 56.5,137.5 62.4,155.9 65.2,162.4 68.8,165.2 72.4,163.8 77.4,157.4 84.5,144.5 88.1,145.9 93.8,153.8 97.4,156.5 105.2,156.5 109.5,150.9 113.8,138.1 118.1,126.5 123.1,122.1 127.4,125.2 131.5,136.5 135.2,150.9 136.5,159.5 140.9,174.5 148.1,188.1 151.5,190.5 157.4,190.5 162.4,185.2 169.5,180.9 173.8,173.1 177.4,167.4 185.2,168.1 192.4,165.2 198.1,167.4 203.8,167.4 208.1,168.4 212.4,170.9 216.5,180.9 222.4,186.5 226.5,190.9 229.5,194.2 233.1,194.2 236.5,190.9 239.5,184.5 244.5,175.9 246.5,168.1 250.9,155.2 256.5,140.9 260.9,122.4 264.5,114.5 273.8,108.1 280.9,109.5 289.5,110.2 295.2,102.4 299.5,103.8 308.1,104.5 316.5,111.5 324.5,121.5 332.4,123.1 338.1,128.8 343.8,138.1 350.9,148.8 356.5,160.9 358.8,164.5 363.8,175.9 369.5,188.8 373.8,197.4 380.2,205.9 384.5,220.9 386.5,220.9 392.4,217.4 397.4,214.5 400.9,215.9 408.1,221.2 415.2,221.2 422.4,214.5 429.5,199.5 433.8,179.5 436.5,150.9 440.9,140.9 447.4,142.1 451.5,141.2 460.2,142.4 465.2,149.5 468.8,152.1 475.9,152.4 480.2,154.5 485.2,161.2 492.4,172.4 499.5,178.1 505.2,184.5 510.9,185.5 513.8,185.2 519.5,177.4 525.2,170.9 528.4,163.5 532.4,163.1 536.5,164.5 540.9,160.5 545.2,156.5 552.4,156.5 556.5,160.2 560.9,169.3 565.2,180.5 567.4,185.9 573.1,192.4 577.4,195.5 583.1,195.2 587.4,190.9 592.4,185.2 597.4,182.5 604.5,182.5 608.1,184.5 613.1,184.1 618.8,175.2 624.5,168.1 628.8,165.9 635.9,164.2 640.2,162.4 644.5,160.5 649.0,160.2" stroke="#0000cc"/>
<polyline points="0.5,100.2 9.1,100.2 14.1,103.8 16.9,102.5 26.2,93.5 33.4,93.1 40.5,100.2 47.5,115.2 50.5,124.5 57.5,137.5 63.4,155.9 66.2,162.4 69.8,165.2 73.4,163.8 78.4,157.4 85.5,144.5 89.1,145.9 94.8,153.8 98.4,156.5 106.2,156.5 110.5,150.9 114.8,138.1 119.1,126.5 124.1,122.1 128.4,125.2 132.5,136.5 136.2,150.9 137.5,159.5 141.9,174.5 149.1,188.1 152.5,190.5 158.4,190.5 163.4,185.2 170.5,180.9 174.8,173.1 178.4,167.4 186.2,168.1 193.4,165.2 199.1,167.4 204.8,167.4 209.1,168.4 213.4,170.9 217.5,180.9 223.4,186.5 227.5,190.9 230.5,194.2 234.1,194.2 237.5,190.9 240.5,184.5 245.5,175.9 247.5,168.1 251.9,155.2 257.5,140.9 261.9,122.4 265.5,114.5 274.8,108.1 281.9,109.5 290.5,110.2 296.2,102.4 300.5,103.8 309.1,104.5 317.5,111.5 325.5,121.5 333.4,123.1 339.1,128.8 344.8,138.1 351.9,148.8 357.5,160.9 359.8,164.5 364.8,175.9 370.5,188.8 374.8,197.4 381.2,205.9 385.5,220.9 387.5,220.9 393.4,217.4 398.4,214.5 401.9,215.9 409.1,221.2 416.2,221.2 423.4,214.5 430.5,199.5 434.8,179.5 437.5,150.9 441.9,140.9 448.4,142.1 452.5,141.2 461.2,142.4 466.2,149.5 469.8,152.1 476.9,152.4 481.2,154.5 486.2,161.2 493.4,172.4 500.5,178.1 506.2,184.5 511.9,185.5 514.8,185.2 520.5,177.4 526.2,170.9 529.4,163.5 533.4,163.1 537.5,164.5 541.9,160.5 546.2,156.5 553.4,156.5 557.5,160.2 561.9,169.3 566.2,180.5 568.4,185.9 574.1,192.4 578.4,195.5 584.1,195.2 588.4,190.9 593.4,185.2 598.4,182.5 605.5,182.5 609.1,184.5 614.1,184.1 619.8,175.2 625.5,168.1 629.8,165.9 636.9,164.2 641.2,162.4 645.5,160.5 650.0,160.2" stroke="#0000cc"/>
<polyline points="-0.5,101.2 8.1,101.2 13.1,104.8 15.9,103.5 25.2,94.5 32.4,94.1 39.5,101.2 46.5,116.2 49.5,125.5 56.5,138.5 62.4,156.9 65.2,163.4 68.8,166.2 72.4,164.8 77.4,158.4 84.5,145.5 88.1,146.9 93.8,154.8 97.4,157.5 105.2,157.5 109.5,151.9 113.8,139.1 118.1,127.5 123.1,123.1 127.4,126.2 131.5,137.5 135.2,151.9 136.5,160.5 140.9,175.5 148.1,189.1 151.5,191.5 157.4,191.5 162.4,186.2 169.5,181.9 173.8,174.1 177.4,168.4 185.2,169.1 192.4,166.2 198.1,168.4 203.8,168.4 208.1,169.4 212.4,171.9 216.5,181.9 222.4,187.5 226.5,191.9 229.5,195.2 233.1,195.2 236.5,191.9 239.5,185.5 244.5,176.9 246.5,169.1 250.9,156.2 256.5,141.9 260.9,123.4 264.5,115.5 273.8,109.1 280.9,110.5 289.5,111.2 295.2,103.4 299.5,104.8 308.1,105.5 316.5,112.5 324.5,122.5 332.4,124.1 338.1,129.8 343.8,139.1 350.9,149.8 356.5,161.9 358.8,165.5 363.8,176.9 369.5,189.8 373.8,198.4 380.2,206.9 384.5,221.9 386.5,221.9 392.4,218.4 397.4,215.5 400.9,216.9 408.1,222.2 415.2,222.2 422.4,215.5 429.5,200.5 433.8,180.5 436.5,151.9 440.9,141.9 447.4,143.1 451.5,142.2 460.2,143.4 465.2,150.5 468.8,153.1 475.9,153.4 480.2,155.5 485.2,162.2 492.4,173.4 499.5,179.1 505.2,185.5 510.9,186.5 513.8,186.2 519.5,178.4 525.2,171.9 528.4,164.5 532.4,164.1 536.5,165.5 540.9,161.5 545.2,157.5 552.4,157.5 556.5,161.2 560.9,170.3 565.2,181.5 567.4,186.9 573.1,193.4 577.4,196.5 583.1,196.2 587.4,191.9 592.4,186.2 597.4,183.5 604.5,183.5 608.1,185.5 613.1,185.1 618.8,176.2 624.5,169.1 628.8,166.9 635.9,165.2 640.2,163.4 644.5,161.5 649.0,161.2" stroke="#0000cc"/>
<polyline points="0.5,101.2 9.1,101.2 14.1,104.8 16.9,103.5 26.2,94.5 33.4,94.1 40.5,101.2 47.5,116.2 50.5,125.5 57.5,138.5 63.4,156.9 66.2,163.4 69.8,166.2 73.4,164.8 78.4,158.4 85.5,145.5 89.1,146.9 94.8,154.8 98.4,157.5 106.2,157.5 110.5,151.9 114.8,139.1 119.1,127.5 124.1,123.1 128.4,126.2 132.5,137.5 136.2,151.9 137.5,160.5 141.9,175.5 149.1,189.1 152.5,191.5 158.4,191.5 163.4,186.2 170.5,181.9 174.8,174.1 178.4,168.4 186.2,169.1 193.4,166.2 199.1,168.4 204.8,168.4 209.1,169.4 213.4,171.9 217.5,181.9 223.4,187.5 227.5,191.9 230.5,195.2 234.1,195.2 237.5,191.9 240.5,185.5 245.5,176.9 247.5,169.1 251.9,156.2 257.5,141.9 261.9,123.4 265.5,115.5 274.8,109.1 281.9,110.5 290.5,111.2 296.2,103.4 300.5,104.8 309.1,105.5 317.5,112.5 325.5,122.5 333.4,124.1 339.1,129.8 344.8,139.1 351.9,149.8 357.5,161.9 359.8,165.5 364.8,176.9 370.5,189.8 374.8,198.4 381.2,206.9 385.5,221.9 387.5,221.9 393.4,218.4 398.4,215.5 401.9,216.9 409.1,222.2 416.2,222.2 423.4,215.5 430.5,200.5 434.8,180.5 437.5,151.9 441.9,141.9 448.4,143.1 452.5,142.2 461.2,143.4 466.2,150.5 469.8,153.1 476.9,153.4 481.2,155.5 486.2,162.2 493.4,173.4 500.5,179.1 506.2,185.5 511.9,186.5 514.8,186.2 520.5,178.4 526.2,171.9 529.4,164.5 533.4,164.1 537.5,165.5 541.9,161.5 546.2,157.5 553.4,157.5 557.5,161.2 561.9,170.3 566.2,181.5 568.4,186.9 574.1,193.4 578.4,196.5 584.1,196.2 588.4,191.9 593.4,186.2 598.4,183.5 605.5,183.5 609.1,185.5 614.1,185.1 619.8,176.2 625.5,169.1 629.8,166.9 636.9,165.2 641.2,163.4 645.5,161.5 650.0,161.2" stroke="#0000cc"/>
</g>
<g shape-rendering="crispEdges">
<rect x="0" y="343" width="3" height="17" fill="#0000cc"/>
<rect x="4" y="343" width="3" height="14" fill="#0000cc"/>
<rect x="8" y="343" width="3" height="22" fill="#0000cc"/>
<rect x="12" y="343" width="3" height="18" fill="#0000cc"/>
<rect x="16" y="343" width="3" height="14" fill="#0000cc"/>
<rect x="20" y="343" width="3" height="12" fill="#0000cc"/>
<rect x="24" y="343" width="3" height="13" fill="#0000cc"/>
<rect x="28" y="343" width="3" height="18" fill="#0000cc"/>
<rect x="32" y="343" width="3" height="27" fill="#0000cc"/>
<rect x="36" y="343" width="3" height="31" fill="#0000cc"/>
<rect x="40" y="343" width="3" height="36" fill="#0000cc"/>
<rect x="44" y="343" width="3" height="37" fill="#0000cc"/>
<rect x="48" y="343" width="3" height="36" fill="#0000cc"/>
<rect x="52" y="343" width="3" height="44" fill="#0000cc"/>
<rect x="56" y="343" width="3" height="47" fill="#0000cc"/>
<rect x="60" y="343" width="3" height="48" fill="#0000cc"/>
<rect x="64" y="343" width="3" height="43" fill="#0000cc"/>
<rect x="68" y="343" width="3" height="37" fill="#0000cc"/>
<rect x="72" y="343" width="3" height="36" fill="#0000cc"/>
<rect x="76" y="343" width="3" height="33" fill="#0000cc"/>
<rect x="80" y="343" width="3" height="26" fill="#0000cc"/>
<rect x="84" y="343" width="3" height="17" fill="#0000cc"/>
<rect x="88" y="343" width="3" height="8" fill="#0000cc"/>
<rect x="92" y="343" width="3" height="3" fill="#0000cc"/>
<rect x="96" y="343" width="3" height="3" fill="#0000cc"/>
<rect x="100" y="343" width="3" height="3" fill="#0000cc"/>
<rect x="104" y="343" width="3" height="2" fill="#0000cc"/>
<rect x="108" y="343" width="3" height="6" fill="#0000cc"/>
<rect x="112" y="343" width="3" height="8" fill="#0000cc"/>
<rect x="116" y="343" width="3" height="9" fill="#0000cc"/>
<rect x="120" y="343" width="3" height="12" fill="#0000cc"/>
<rect x="124" y="343" width="3" height="22" fill="#0000cc"/>
<rect x="128" y="343" width="3" height="31" fill="#0000cc"/>
<rect x="132" y="343" width="3" height="38" fill="#0000cc"/>
<rect x="136" y="343" width="3" height="39" fill="#0000cc"/>
<rect x="140" y="343" width="3" height="36" fill="#0000cc"/>
<rect x="144" y="343" width="3" height="39" fill="#0000cc"/>
<rect x="148" y="343" width="3" height="33" fill="#0000cc"/>
<rect x="152" y="343" width="3" height="30" fill="#0000cc"/>
<rect x="156" y="343" width="3" height="26" fill="#0000cc"/>
<rect x="160" y="343" width="3" height="21" fill="#0000cc"/>
<rect x="164" y="343" width="3" height="21" fill="#0000cc"/>
<rect x="168" y="343" width="3" height="22" fill="#0000cc"/>
<rect x="172" y="343" width="3" height="21" fill="#0000cc"/>
<rect x="176" y="343" width="3" height="22" fill="#0000cc"/>
<rect x="180" y="343" width="3" height="23" fill="#0000cc"/>
<rect x="184" y="343" width="3" height="25" fill="#0000cc"/>
<rect x="188" y="343" width="3" height="24" fill="#0000cc"/>
<rect x="192" y="343" width="3" height="23" fill="#0000cc"/>
<rect x="196" y="343" width="3" height="23" fill="#0000cc"/>
<rect x="200" y="343" width="3" height="20" fill="#0000cc"/>
<rect x="204" y="343" width="3" height="19" fill="#0000cc"/>
<rect x="208" y="343" width="3" height="7" fill="#0000cc"/>
<rect x="212" y="342" width="3" height="1" fill="#0000cc"/>
<rect x="216" y="336" width="3" height="7" fill="#0000cc"/>
<rect x="220" y="329" width="3" height="14" fill="#0000cc"/>
<rect x="224" y="322" width="3" height="21" fill="#0000cc"/>
<rect x="228" y="320" width="3" height="23" fill="#0000cc"/>
<rect x="232" y="322" width="3" height="21" fill="#0000cc"/>
<rect x="236" y="329" width="3" height="14" fill="#0000cc"/>
<rect x="240" y="329" width="3" height="14" fill="#0000cc"/>
<rect x="244" y="328" width="3" height="15" fill="#0000cc"/>
<rect x="248" y="323" width="3" height="20" fill="#0000cc"/>
<rect x="252" y="316" width="3" height="27" fill="#0000cc"/>
<rect x="256" y="315" width="3" height="28" fill="#0000cc"/>
<rect x="260" y="322" width="3" height="21" fill="#0000cc"/>
<rect x="264" y="323" width="3" height="20" fill="#0000cc"/>
<rect x="268" y="324" width="3" height="19" fill="#0000cc"/>
<rect x="272" y="328" width="3" height="15" fill="#0000cc"/>
<rect x="276" y="332" width="3" height="11" fill="#0000cc"/>
<rect x="280" y="334" width="3" height="9" fill="#0000cc"/>
<rect x="284" y="327" width="3" height="16" fill="#0000cc"/>
<rect x="288" y="322" width="3" height="21" fill="#0000cc"/>
<rect x="292" y="320" width="3" height="23" fill="#0000cc"/>
<rect x="296" y="315" width="3" height="28" fill="#0000cc"/>
<rect x="300" y="314" width="3" height="29" fill="#0000cc"/>
<rect x="304" y="321" width="3" height="22" fill="#0000cc"/>
<rect x="308" y="329" width="3" height="14" fill="#0000cc"/>
<rect x="312" y="337" width="3" height="6" fill="#0000cc"/>
<rect x="316" y="343" width="3" height="2" fill="#0000cc"/>
<rect x="320" y="343" width="3" height="4" fill="#0000cc"/>
<rect x="324" y="343" width="3" height="5" fill="#0000cc"/>
<rect x="328" y="343" width="3" height="4" fill="#0000cc"/>
<rect x="332" y="343" width="3" height="8" fill="#0000cc"/>
<rect x="336" y="343" width="3" height="10" fill="#0000cc"/>
<rect x="340" y="343" width="3" height="12" fill="#0000cc"/>
<rect x="344" y="343" width="3" height="19" fill="#0000cc"/>
<rect x="348" y="343" width="3" height="23" fill="#0000cc"/>
<rect x="352" y="343" width="3" height="33" fill="#0000cc"/>
<rect x="356" y="343" width="3" height="37" fill="#0000cc"/>
<rect x="360" y="343" width="3" height="37" fill="#0000cc"/>
<rect x="364" y="343" width="3" height="40" fill="#0000cc"/>
<rect x="368" y="343" width="3" height="40" fill="#0000cc"/>
<rect x="372" y="343" width="3" height="39" fill="#0000cc"/>
<rect x="376" y="343" width="3" height="43" fill="#0000cc"/>
<rect x="380" y="343" width="3" height="43" fill="#0000cc"/>
<rect x="384" y="343" width="3" height="31" fill="#0000cc"/>
<rect x="388" y="343" width="3" height="20" fill="#0000cc"/>
<rect x="392" y="343" width="3" height="14" fill="#0000cc"/>
<rect x="396" y="343" width="3" height="7" fill="#0000cc"/>
<rect x="400" y="343" width="3" height="1" fill="#0000cc"/>
<rect x="404" y="336" width="3" height="7" fill="#0000cc"/>
<rect x="408" y="334" width="3" height="9" fill="#0000cc"/>
<rect x="412" y="332" width="3" height="11" fill="#0000cc"/>
<rect x="416" y="334" width="3" height="9" fill="#0000cc"/>
<rect x="420" y="334" width="3" height="9" fill="#0000cc"/>
<rect x="424" y="336" width="3" height="7" fill="#0000cc"/>
<rect x="428" y="338" width="3" height="5" fill="#0000cc"/>
<rect x="432" y="343" width="3" height="1" fill="#0000cc"/>
<rect x="436" y="343" width="3" height="3" fill="#0000cc"/>
<rect x="440" y="343" width="3" height="8" fill="#0000cc"/>
<rect x="444" y="343" width="3" height="3" fill="#0000cc"/>
<rect x="448" y="343" width="3" height="1" fill="#0000cc"/>
<rect x="452" y="343" width="3" height="1" fill="#0000cc"/>
<rect x="456" y="334" width="3" height="9" fill="#0000cc"/>
<rect x="460" y="326" width="3" height="17" fill="#0000cc"/>
<rect x="464" y="324" width="3" height="19" fill="#0000cc"/>
<rect x="468" y="325" width="3" height="18" fill="#0000cc"/>
<rect x="472" y="325" width="3" height="18" fill="#0000cc"/>
<rect x="476" y="339" width="3" height="4" fill="#0000cc"/>
<rect x="480" y="343" width="3" height="5" fill="#0000cc"/>
<rect x="484" y="343" width="3" height="11" fill="#0000cc"/>
<rect x="488" y="343" width="3" height="17" fill="#0000cc"/>
<rect x="492" y="343" width="3" height="18" fill="#0000cc"/>
<rect x="496" y="343" width="3" height="19" fill="#0000cc"/>
<rect x="500" y="343" width="3" height="17" fill="#0000cc"/>
<rect x="504" y="343" width="3" height="13" fill="#0000cc"/>
<rect x="508" y="343" width="3" height="10" fill="#0000cc"/>
<rect x="512" y="343" width="3" height="6" fill="#0000cc"/>
<rect x="516" y="343" width="3" height="2" fill="#0000cc"/>
<rect x="520" y="343" width="3" height="8" fill="#0000cc"/>
<rect x="524" y="343" width="3" height="7" fill="#0000cc"/>
<rect x="528" y="343" width="3" height="3" fill="#0000cc"/>
<rect x="532" y="341" width="3" height="2" fill="#0000cc"/>
<rect x="536" y="342" width="3" height="1" fill="#0000cc"/>
<rect x="540" y="343" width="3" height="5" fill="#0000cc"/>
<rect x="544" y="343" width="3" height="10" fill="#0000cc"/>
<rect x="548" y="343" width="3" height="12" fill="#0000cc"/>
<rect x="552" y="343" width="3" height="13" fill="#0000cc"/>
<rect x="556" y="343" width="3" height="19" fill="#0000cc"/>
<rect x="560" y="343" width="3" height="24" fill="#0000cc"/>
<rect x="564" y="343" width="3" height="24" fill="#0000cc"/>
<rect x="568" y="343" width="3" height="24" fill="#0000cc"/>
<rect x="572" y="343" width="3" height="20" fill="#0000cc"/>
<rect x="576" y="343" width="3" height="17" fill="#0000cc"/>
<rect x="580" y="343" width="3" height="13" fill="#0000cc"/>
<rect x="584" y="343" width="3" height="13" fill="#0000cc"/>
<rect x="588" y="343" width="3" height="11" fill="#0000cc"/>
<rect x="592" y="343" width="3" height="9" fill="#0000cc"/>
<rect x="596" y="343" width="3" height="7" fill="#0000cc"/>
<rect x="600" y="343" width="3" height="6" fill="#0000cc"/>
<rect x="604" y="343" width="3" height="2" fill="#0000cc"/>
<rect x="608" y="343" width="3" height="1" fill="#0000cc"/>
<rect x="612" y="343" width="3" height="3" fill="#0000cc"/>
<rect x="616" y="343" width="3" height="3" fill="#0000cc"/>
<rect x="620" y="343" width="3" height="2" fill="#0000cc"/>
<rect x="624" y="341" width="3" height="2" fill="#0000cc"/>
<rect x="628" y="343" width="3" height="1" fill="#0000cc"/>
<rect x="632" y="343" width="3" height="3" fill="#0000cc"/>
<rect x="636" y="343" width="3" height="3" fill="#0000cc"/>
<rect x="640" y="343" width="3" height="1" fill="#0000cc"/>
<rect x="644" y="343" width="3" height="3" fill="#0000cc"/>
</g>
<polyline points="0.0,370.0 7.0,362.9 12.9,360.0 20.0,358.0 25.7,356.0 31.4,357.9 36.4,363.6 41.4,370.0 45.7,375.0 51.4,379.0 57.0,383.6 62.9,387.0 69.3,386.0 75.7,381.4 81.4,375.0 85.7,370.0 89.3,363.6 92.9,357.0 97.9,350.4 100.5,346.4 104.3,344.3 110.0,345.4 115.7,347.9 120.7,350.7 125.7,355.7 130.0,362.0 134.3,369.3 138.6,375.0 144.3,379.3 150.0,378.6 155.7,375.7 161.4,370.0 167.0,366.0 172.9,363.6 178.6,364.0 185.7,364.7 191.4,365.4 198.6,366.0 202.0,364.3 209.3,359.3 214.3,352.9 217.9,346.4 220.7,340.0 224.3,335.0 227.9,329.3 233.6,323.6 240.0,324.3 245.7,327.0 251.4,325.0 257.9,320.7 263.6,319.3 269.3,320.7 275.7,326.0 281.4,329.0 287.0,329.7 292.9,326.4 298.6,320.7 302.9,318.3 308.6,320.0 313.6,326.4 317.9,333.6 322.0,340.0 327.0,344.6 333.6,347.4 339.3,350.3 345.7,355.0 350.7,360.0 355.0,366.4 359.3,372.9 364.3,378.6 370.7,381.4 376.4,382.9 379.3,385.0 383.6,382.9 387.9,378.6 392.0,372.0 395.0,366.4 397.9,360.0 400.0,354.3 404.3,347.9 407.9,342.9 412.9,336.9 419.3,333.0 425.7,334.3 431.4,337.0 437.0,341.0 442.9,345.0 449.3,346.4 455.0,344.0 460.7,337.0 465.7,332.0 470.7,326.4 473.6,325.0 477.0,327.9 481.4,334.3 485.0,340.7 487.9,347.0 491.4,352.0 496.4,357.0 501.4,360.3 508.6,357.9 514.3,352.5 520.0,349.3 526.4,348.3 532.0,346.4 538.6,344.3 544.3,345.4 550.0,350.0 556.4,354.3 562.0,360.0 568.6,364.0 574.3,364.6 580.0,361.0 586.4,357.0 592.0,354.6 598.6,351.7 604.3,348.8 610.0,346.4 615.7,345.0 621.4,345.4 628.6,344.3 634.3,344.0 641.4,344.3 645.5,344.3" fill="none" stroke="#ff0000" stroke-width="1" stroke-dasharray="3 3" shape-rendering="crispEdges"/>
<g shape-rendering="crispEdges">
<line x1="2" y1="414.5" x2="654" y2="414.5" stroke="#ff0000" stroke-width="1" stroke-dasharray="18 6"/>
<line x1="2" y1="464.5" x2="654" y2="464.5" stroke="#ff0000" stroke-width="1" stroke-dasharray="18 6"/>
</g>
<polyline points="0.9,427.0 6.0,411.5 10.3,420.0 14.6,430.4 18.0,436.4 23.2,430.4 28.4,427.8 32.7,439.0 37.0,453.6 41.3,463.0 46.4,464.8 51.6,462.2 57.6,463.0 63.6,464.8 67.0,458.7 70.5,447.6 73.9,439.0 79.1,433.0 84.2,427.8 87.7,419.2 92.0,410.6 96.3,408.0 101.4,413.2 105.7,425.2 110.0,445.9 113.4,456.2 116.9,466.5 122.0,469.9 127.2,471.6 132.3,475.0 137.5,475.9 142.7,469.9 147.0,462.2 151.3,451.0 154.7,439.0 159.0,425.2 163.3,417.5 168.4,421.8 172.7,433.0 177.0,449.3 181.3,459.6 185.6,466.5 190.8,464.8 196.0,456.2 201.0,442.4 206.3,431.2 211.4,422.6 216.6,416.6 221.7,415.3 226.9,413.2 230.3,413.2 234.6,421.8 238.0,437.3 241.5,449.3 244.9,456.2 249.2,451.0 252.7,439.0 256.0,426.0 259.5,418.3 263.8,425.2 268.0,437.3 272.4,447.6 276.7,453.6 281.0,457.9 285.3,451.0 288.8,440.7 292.2,428.7 295.6,420.9 300.0,415.8 304.2,420.9 307.7,430.4 312.0,445.9 315.4,461.3 319.7,471.6 324.9,471.6 329.2,463.9 333.5,454.5 337.7,449.3 342.9,454.5 347.2,461.3 351.5,468.2 357.5,472.5 364.4,473.4 371.3,469.9 379.0,466.5 381.6,454.5 384.2,445.9 386.7,432.0 389.3,420.0 392.7,407.2 396.2,402.5 401.3,400.8 406.5,402.9 410.8,409.8 415.0,417.5 418.5,427.0 422.0,436.4 426.3,445.9 430.6,454.5 434.9,463.0 440.0,466.5 444.3,462.2 447.7,452.7 451.2,442.4 454.6,430.4 458.9,421.8 464.0,414.9 468.4,414.9 472.7,420.9 476.0,429.5 480.4,445.9 484.7,461.3 489.0,469.9 493.3,474.2 497.6,471.6 501.0,463.9 504.5,452.7 507.9,439.0 511.3,426.0 515.6,416.6 519.9,418.3 523.4,426.9 527.7,437.3 531.0,441.6 535.4,435.5 539.7,431.2 543.0,437.3 546.6,451.0 550.9,462.2 555.2,468.2 558.6,469.9 565.5,469.0 570.6,462.2 574.0,451.0 577.5,438.0 581.8,423.5 585.2,415.8 590.4,414.9 594.7,418.3 599.9,420.9 605.0,421.4 609.3,426.0 613.6,433.8 617.9,445.9 622.2,451.9 626.5,447.6 630.8,445.0 635.0,448.4 639.4,452.7 643.7,450.0 645.5,449.5" fill="none" stroke="#ff0000" stroke-width="1" stroke-dasharray="3 3" shape-rendering="crispEdges"/>
<g shape-rendering="crispEdges" fill="none" stroke-width="1" stroke-linejoin="round">
<polyline points="1.2,404.1 4.7,407.5 7.2,419.5 9.0,429.9 13.3,440.2 15.8,441.5 17.5,439.3 20.1,423.9 22.7,422.1 25.3,423.0 27.9,435.0 30.4,448.8 33.0,460.0 36.5,466.3 40.8,468.5 45.1,464.3 49.4,460.0 52.8,459.5 57.1,465.1 60.5,469.5 64.0,455.7 66.5,445.4 68.3,436.8 71.7,432.5 76.9,432.1 82.0,426.5 84.6,417.8 87.2,405.8 89.8,402.7 93.2,403.8 96.6,407.5 100.9,421.3 105.2,438.5 108.7,460.8 112.5,469.0 116.4,471.1 120.7,468.5 125.0,472.5 129.3,475.4 133.2,478.4 137.0,471.1 140.4,465.1 144.7,460.0 146.5,452.2 149.0,442.8 152.5,432.5 155.1,421.3 156.8,413.2 160.2,412.3 164.5,417.0 167.1,424.7 169.7,435.9 173.1,450.5 176.5,466.0 180.3,460.5 184.3,468.5 188.5,464.3 192.0,456.5 197.2,444.5 200.5,429.5 204.9,429.0 208.4,415.3 211.8,417.5 216.9,414.1 221.2,414.1 224.7,410.8 228.1,410.5 230.7,413.5 233.3,429.9 235.8,447.1 237.5,456.5 241.0,460.8 244.4,455.7 247.0,443.5 249.5,429.9 253.0,417.0 256.5,411.8 259.0,417.8 262.5,433.3 265.9,445.4 268.5,451.9 273.5,452.2 277.1,459.1 280.5,461.2 282.2,455.7 284.8,440.2 288.3,422.1 291.7,415.3 294.3,413.2 297.7,413.5 301.2,418.7 304.5,432.5 308.0,447.1 310.5,460.8 312.3,470.8 316.5,471.5 320.9,473.7 324.4,467.7 326.9,459.1 328.7,452.2 333.0,445.4 336.4,448.8 340.7,459.1 346.7,464.3 351.0,470.8 354.4,474.2 357.9,474.2 363.9,471.1 369.9,468.5 377.5,466.8 378.5,460.8 380.2,447.1 381.1,435.0 382.8,424.7 385.4,412.7 388.8,404.1 392.2,399.3 396.5,399.3 400.0,401.0 405.1,403.8 408.5,411.0 412.0,417.8 414.5,424.7 416.3,434.2 420.5,441.1 424.9,454.8 428.3,455.3 431.8,467.7 436.1,468.0 440.9,469.8 443.0,460.8 444.7,448.8 448.1,436.8 450.7,427.3 452.9,418.7 455.8,418.2 461.0,412.7 465.3,412.7 468.7,419.5 472.2,427.3 474.7,438.5 477.3,450.5 480.8,464.3 484.5,474.2 489.4,474.2 494.5,469.4 498.8,465.1 500.5,455.7 503.1,440.2 504.8,427.3 508.3,420.4 512.5,412.7 516.9,412.7 518.5,421.3 521.2,435.0 524.5,445.4 528.9,446.2 530.5,436.8 533.2,427.3 536.5,426.1 539.2,432.5 541.8,445.4 544.7,460.8 548.1,470.3 551.2,469.4 554.7,468.5 560.7,470.3 565.0,466.0 569.3,459.1 571.0,447.1 573.5,435.9 577.0,424.7 580.5,411.0 583.9,412.7 588.2,416.1 592.8,422.1 596.8,417.8 601.1,422.1 604.5,422.1 607.9,429.0 612.2,438.5 616.5,454.0 620.8,454.0 624.3,442.8 628.5,440.5 632.9,448.8 636.3,457.0 640.5,448.8 644.9,448.5" stroke="#0000cc"/>
<polyline points="2.2,404.1 5.7,407.5 8.2,419.5 10.0,429.9 14.3,440.2 16.8,441.5 18.5,439.3 21.1,423.9 23.7,422.1 26.3,423.0 28.9,435.0 31.4,448.8 34.0,460.0 37.5,466.3 41.8,468.5 46.1,464.3 50.4,460.0 53.8,459.5 58.1,465.1 61.5,469.5 65.0,455.7 67.5,445.4 69.3,436.8 72.7,432.5 77.9,432.1 83.0,426.5 85.6,417.8 88.2,405.8 90.8,402.7 94.2,403.8 97.6,407.5 101.9,421.3 106.2,438.5 109.7,460.8 113.5,469.0 117.4,471.1 121.7,468.5 126.0,472.5 130.3,475.4 134.2,478.4 138.0,471.1 141.4,465.1 145.7,460.0 147.5,452.2 150.0,442.8 153.5,432.5 156.1,421.3 157.8,413.2 161.2,412.3 165.5,417.0 168.1,424.7 170.7,435.9 174.1,450.5 177.5,466.0 181.3,460.5 185.3,468.5 189.5,464.3 193.0,456.5 198.2,444.5 201.5,429.5 205.9,429.0 209.4,415.3 212.8,417.5 217.9,414.1 222.2,414.1 225.7,410.8 229.1,410.5 231.7,413.5 234.3,429.9 236.8,447.1 238.5,456.5 242.0,460.8 245.4,455.7 248.0,443.5 250.5,429.9 254.0,417.0 257.5,411.8 260.0,417.8 263.5,433.3 266.9,445.4 269.5,451.9 274.5,452.2 278.1,459.1 281.5,461.2 283.2,455.7 285.8,440.2 289.3,422.1 292.7,415.3 295.3,413.2 298.7,413.5 302.2,418.7 305.5,432.5 309.0,447.1 311.5,460.8 313.3,470.8 317.5,471.5 321.9,473.7 325.4,467.7 327.9,459.1 329.7,452.2 334.0,445.4 337.4,448.8 341.7,459.1 347.7,464.3 352.0,470.8 355.4,474.2 358.9,474.2 364.9,471.1 370.9,468.5 378.5,466.8 379.5,460.8 381.2,447.1 382.1,435.0 383.8,424.7 386.4,412.7 389.8,404.1 393.2,399.3 397.5,399.3 401.0,401.0 406.1,403.8 409.5,411.0 413.0,417.8 415.5,424.7 417.3,434.2 421.5,441.1 425.9,454.8 429.3,455.3 432.8,467.7 437.1,468.0 441.9,469.8 444.0,460.8 445.7,448.8 449.1,436.8 451.7,427.3 453.9,418.7 456.8,418.2 462.0,412.7 466.3,412.7 469.7,419.5 473.2,427.3 475.7,438.5 478.3,450.5 481.8,464.3 485.5,474.2 490.4,474.2 495.5,469.4 499.8,465.1 501.5,455.7 504.1,440.2 505.8,427.3 509.3,420.4 513.5,412.7 517.9,412.7 519.5,421.3 522.2,435.0 525.5,445.4 529.9,446.2 531.5,436.8 534.2,427.3 537.5,426.1 540.2,432.5 542.8,445.4 545.7,460.8 549.1,470.3 552.2,469.4 555.7,468.5 561.7,470.3 566.0,466.0 570.3,459.1 572.0,447.1 574.5,435.9 578.0,424.7 581.5,411.0 584.9,412.7 589.2,416.1 593.8,422.1 597.8,417.8 602.1,422.1 605.5,422.1 608.9,429.0 613.2,438.5 617.5,454.0 621.8,454.0 625.3,442.8 629.5,440.5 633.9,448.8 637.3,457.0 641.5,448.8 645.9,448.5" stroke="#0000cc"/>
<polyline points="1.2,405.1 4.7,408.5 7.2,420.5 9.0,430.9 13.3,441.2 15.8,442.5 17.5,440.3 20.1,424.9 22.7,423.1 25.3,424.0 27.9,436.0 30.4,449.8 33.0,461.0 36.5,467.3 40.8,469.5 45.1,465.3 49.4,461.0 52.8,460.5 57.1,466.1 60.5,470.5 64.0,456.7 66.5,446.4 68.3,437.8 71.7,433.5 76.9,433.1 82.0,427.5 84.6,418.8 87.2,406.8 89.8,403.7 93.2,404.8 96.6,408.5 100.9,422.3 105.2,439.5 108.7,461.8 112.5,470.0 116.4,472.1 120.7,469.5 125.0,473.5 129.3,476.4 133.2,479.4 137.0,472.1 140.4,466.1 144.7,461.0 146.5,453.2 149.0,443.8 152.5,433.5 155.1,422.3 156.8,414.2 160.2,413.3 164.5,418.0 167.1,425.7 169.7,436.9 173.1,451.5 176.5,467.0 180.3,461.5 184.3,469.5 188.5,465.3 192.0,457.5 197.2,445.5 200.5,430.5 204.9,430.0 208.4,416.3 211.8,418.5 216.9,415.1 221.2,415.1 224.7,411.8 228.1,411.5 230.7,414.5 233.3,430.9 235.8,448.1 237.5,457.5 241.0,461.8 244.4,456.7 247.0,444.5 249.5,430.9 253.0,418.0 256.5,412.8 259.0,418.8 262.5,434.3 265.9,446.4 268.5,452.9 273.5,453.2 277.1,460.1 280.5,462.2 282.2,456.7 284.8,441.2 288.3,423.1 291.7,416.3 294.3,414.2 297.7,414.5 301.2,419.7 304.5,433.5 308.0,448.1 310.5,461.8 312.3,471.8 316.5,472.5 320.9,474.7 324.4,468.7 326.9,460.1 328.7,453.2 333.0,446.4 336.4,449.8 340.7,460.1 346.7,465.3 351.0,471.8 354.4,475.2 357.9,475.2 363.9,472.1 369.9,469.5 377.5,467.8 378.5,461.8 380.2,448.1 381.1,436.0 382.8,425.7 385.4,413.7 388.8,405.1 392.2,400.3 396.5,400.3 400.0,402.0 405.1,404.8 408.5,412.0 412.0,418.8 414.5,425.7 416.3,435.2 420.5,442.1 424.9,455.8 428.3,456.3 431.8,468.7 436.1,469.0 440.9,470.8 443.0,461.8 444.7,449.8 448.1,437.8 450.7,428.3 452.9,419.7 455.8,419.2 461.0,413.7 465.3,413.7 468.7,420.5 472.2,428.3 474.7,439.5 477.3,451.5 480.8,465.3 484.5,475.2 489.4,475.2 494.5,470.4 498.8,466.1 500.5,456.7 503.1,441.2 504.8,428.3 508.3,421.4 512.5,413.7 516.9,413.7 518.5,422.3 521.2,436.0 524.5,446.4 528.9,447.2 530.5,437.8 533.2,428.3 536.5,427.1 539.2,433.5 541.8,446.4 544.7,461.8 548.1,471.3 551.2,470.4 554.7,469.5 560.7,471.3 565.0,467.0 569.3,460.1 571.0,448.1 573.5,436.9 577.0,425.7 580.5,412.0 583.9,413.7 588.2,417.1 592.8,423.1 596.8,418.8 601.1,423.1 604.5,423.1 607.9,430.0 612.2,439.5 616.5,455.0 620.8,455.0 624.3,443.8 628.5,441.5 632.9,449.8 636.3,458.0 640.5,449.8 644.9,449.5" stroke="#0000cc"/>
<polyline points="2.2,405.1 5.7,408.5 8.2,420.5 10.0,430.9 14.3,441.2 16.8,442.5 18.5,440.3 21.1,424.9 23.7,423.1 26.3,424.0 28.9,436.0 31.4,449.8 34.0,461.0 37.5,467.3 41.8,469.5 46.1,465.3 50.4,461.0 53.8,460.5 58.1,466.1 61.5,470.5 65.0,456.7 67.5,446.4 69.3,437.8 72.7,433.5 77.9,433.1 83.0,427.5 85.6,418.8 88.2,406.8 90.8,403.7 94.2,404.8 97.6,408.5 101.9,422.3 106.2,439.5 109.7,461.8 113.5,470.0 117.4,472.1 121.7,469.5 126.0,473.5 130.3,476.4 134.2,479.4 138.0,472.1 141.4,466.1 145.7,461.0 147.5,453.2 150.0,443.8 153.5,433.5 156.1,422.3 157.8,414.2 161.2,413.3 165.5,418.0 168.1,425.7 170.7,436.9 174.1,451.5 177.5,467.0 181.3,461.5 185.3,469.5 189.5,465.3 193.0,457.5 198.2,445.5 201.5,430.5 205.9,430.0 209.4,416.3 212.8,418.5 217.9,415.1 222.2,415.1 225.7,411.8 229.1,411.5 231.7,414.5 234.3,430.9 236.8,448.1 238.5,457.5 242.0,461.8 245.4,456.7 248.0,444.5 250.5,430.9 254.0,418.0 257.5,412.8 260.0,418.8 263.5,434.3 266.9,446.4 269.5,452.9 274.5,453.2 278.1,460.1 281.5,462.2 283.2,456.7 285.8,441.2 289.3,423.1 292.7,416.3 295.3,414.2 298.7,414.5 302.2,419.7 305.5,433.5 309.0,448.1 311.5,461.8 313.3,471.8 317.5,472.5 321.9,474.7 325.4,468.7 327.9,460.1 329.7,453.2 334.0,446.4 337.4,449.8 341.7,460.1 347.7,465.3 352.0,471.8 355.4,475.2 358.9,475.2 364.9,472.1 370.9,469.5 378.5,467.8 379.5,461.8 381.2,448.1 382.1,436.0 383.8,425.7 386.4,413.7 389.8,405.1 393.2,400.3 397.5,400.3 401.0,402.0 406.1,404.8 409.5,412.0 413.0,418.8 415.5,425.7 417.3,435.2 421.5,442.1 425.9,455.8 429.3,456.3 432.8,468.7 437.1,469.0 441.9,470.8 444.0,461.8 445.7,449.8 449.1,437.8 451.7,428.3 453.9,419.7 456.8,419.2 462.0,413.7 466.3,413.7 469.7,420.5 473.2,428.3 475.7,439.5 478.3,451.5 481.8,465.3 485.5,475.2 490.4,475.2 495.5,470.4 499.8,466.1 501.5,456.7 504.1,441.2 505.8,428.3 509.3,421.4 513.5,413.7 517.9,413.7 519.5,422.3 522.2,436.0 525.5,446.4 529.9,447.2 531.5,437.8 534.2,428.3 537.5,427.1 540.2,433.5 542.8,446.4 545.7,461.8 549.1,471.3 552.2,470.4 555.7,469.5 561.7,471.3 566.0,467.0 570.3,460.1 572.0,448.1 574.5,436.9 578.0,425.7 581.5,412.0 584.9,413.7 589.2,417.1 593.8,423.1 597.8,418.8 602.1,423.1 605.5,423.1 608.9,430.0 613.2,439.5 617.5,455.0 621.8,455.0 625.3,443.8 629.5,441.5 633.9,449.8 637.3,458.0 641.5,449.8 645.9,449.5" stroke="#0000cc"/>
</g>
<g shape-rendering="crispEdges">
<rect x="655" y="0" width="45" height="500" fill="#fff"/>
<rect x="0" y="482" width="700" height="18" fill="#fff"/>
<rect x="0" y="0" width="655" height="1" fill="#000"/>
<rect x="0" y="0" width="1" height="482" fill="#000"/>
<rect x="654" y="0" width="1" height="482" fill="#000"/>
<rect x="0" y="307" width="655" height="1" fill="#000"/>
<rect x="0" y="308" width="700" height="1" fill="#fff"/>
<rect x="0" y="309" width="655" height="1" fill="#000"/>
<rect x="0" y="394" width="655" height="1" fill="#000"/>
<rect x="0" y="395" width="700" height="1" fill="#fff"/>
<rect x="0" y="396" width="655" height="1" fill="#000"/>
<rect x="0" y="481" width="655" height="1" fill="#000"/>
<rect x="655" y="7" width="2" height="1" fill="#000"/>
<rect x="655" y="40" width="2" height="1" fill="#000"/>
<rect x="655" y="73" width="2" height="1" fill="#000"/>
<rect x="655" y="106" width="2" height="1" fill="#000"/>
<rect x="655" y="139" width="2" height="1" fill="#000"/>
<rect x="655" y="172" width="2" height="1" fill="#000"/>
<rect x="655" y="205" width="2" height="1" fill="#000"/>
<rect x="655" y="238" width="2" height="1" fill="#000"/>
<rect x="655" y="271" width="2" height="1" fill="#000"/>
<rect x="655" y="304" width="2" height="1" fill="#000"/>
<rect x="655" y="311" width="2" height="1" fill="#000"/>
<rect x="655" y="343" width="2" height="1" fill="#000"/>
<rect x="655" y="414" width="2" height="1" fill="#000"/>
<rect x="655" y="464" width="2" height="1" fill="#000"/>
<rect x="655" y="394" width="1" height="1" fill="#000"/>
<rect x="655" y="396" width="1" height="1" fill="#000"/>
<rect x="1" y="481" width="1" height="4" fill="#000"/>
<rect x="65" y="481" width="1" height="4" fill="#000"/>
<rect x="129" y="481" width="1" height="4" fill="#000"/>
<rect x="193" y="481" width="1" height="4" fill="#000"/>
<rect x="257" y="481" width="1" height="4" fill="#000"/>
<rect x="321" y="481" width="1" height="4" fill="#000"/>
<rect x="385" y="481" width="1" height="4" fill="#000"/>
<rect x="449" y="481" width="1" height="4" fill="#000"/>
<rect x="513" y="481" width="1" height="4" fill="#000"/>
<rect x="577" y="481" width="1" height="4" fill="#000"/>
<rect x="641" y="481" width="1" height="4" fill="#000"/>
<rect x="656" y="151" width="41" height="11" fill="#000"/>
</g>
<polygon points="1,475.5 1,481 6.5,481" fill="#c0c0c0"/>
<polygon points="583,1 592,1 587.5,6" fill="#b4b4b4"/>
<polygon points="4,7 11,7 7.5,11" fill="#000"/>
</svg>
<div class="t" style="left:660.5px;top:3px;color:#000">0.74120</div><div class="t" style="left:660.5px;top:36px;color:#000">0.73380</div><div class="t" style="left:660.5px;top:69px;color:#000">0.72640</div><div class="t" style="left:660.5px;top:102px;color:#000">0.71900</div><div class="t" style="left:660.5px;top:135px;color:#000">0.71160</div><div class="t" style="left:660.5px;top:168px;color:#000">0.70440</div><div class="t" style="left:660.5px;top:201px;color:#000">0.69700</div><div class="t" style="left:660.5px;top:234px;color:#000">0.68960</div><div class="t" style="left:660.5px;top:267px;color:#000">0.68220</div><div class="t" style="left:660.5px;top:300px;color:#000">0.67480</div><div class="t" style="left:660.5px;top:152px;color:#fff">0.70788</div><div class="t" style="left:658px;top:312px;color:#000">0.009471</div><div class="t" style="left:658px;top:339px;color:#000">0.00</div><div class="t" style="left:657.7px;top:383px;color:#000;letter-spacing:0.05px">-0.014696</div><div class="t" style="left:658px;top:399px;color:#000">100</div><div class="t" style="left:657px;top:410px;color:#000">80</div><div class="t" style="left:658px;top:460px;color:#000">20</div><div class="t" style="left:658px;top:470px;color:#000">0</div><div class="t" style="left:0.5px;top:485.5px;color:#000;letter-spacing:0.10px">21 Aug 2018</div><div class="t" style="left:64.5px;top:485.5px;color:#000;letter-spacing:0.10px">12 Sep 2018</div><div class="t" style="left:128.5px;top:485.5px;color:#000;letter-spacing:0.10px">4 Oct 2018</div><div class="t" style="left:192.5px;top:485.5px;color:#000;letter-spacing:0.10px">26 Oct 2018</div><div class="t" style="left:256.5px;top:485.5px;color:#000;letter-spacing:0.10px">19 Nov 2018</div><div class="t" style="left:320.5px;top:485.5px;color:#000;letter-spacing:0.10px">11 Dec 2018</div><div class="t" style="left:384.5px;top:485.5px;color:#000;letter-spacing:0.10px">4 Jan 2019</div><div class="t" style="left:448.5px;top:485.5px;color:#000;letter-spacing:0.10px">28 Jan 2019</div><div class="t" style="left:512.5px;top:485.5px;color:#000;letter-spacing:0.10px">19 Feb 2019</div><div class="t" style="left:576.5px;top:485.5px;color:#000;letter-spacing:0.10px">12 Mar 2019</div><div class="t" style="left:640.5px;top:485.5px;color:#000;letter-spacing:0.10px">1 Apr 2019</div>
</body></html>
